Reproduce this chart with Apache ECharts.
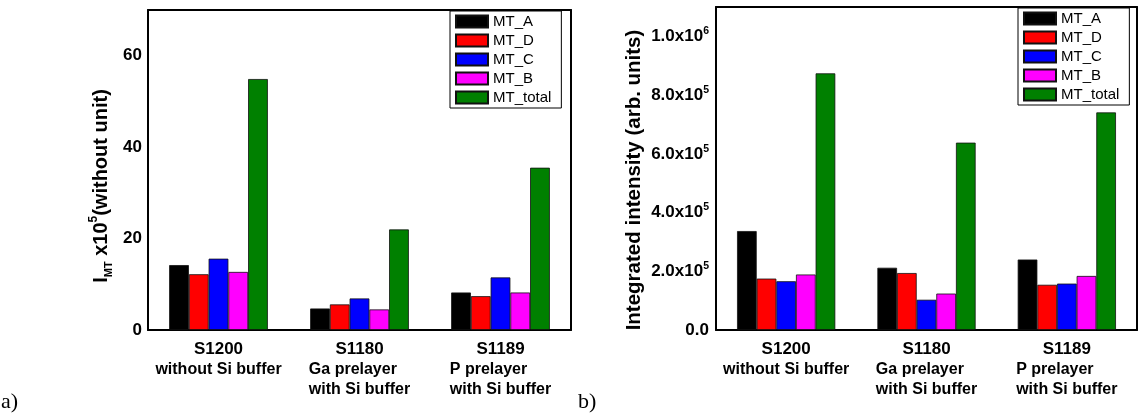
<!DOCTYPE html>
<html>
<head>
<meta charset="utf-8">
<script src="https://cdn.jsdelivr.net/npm/echarts@6/dist/echarts.min.js"></script>
<style>
html,body{margin:0;padding:0;background:#fff;}
#c{width:1139px;height:416px;}
</style>
</head>
<body>
<div id="c"></div>
<script>
// ---- data ----
const categories = ['S1200', 'S1180', 'S1189'];
const categoryNotes = [['without Si buffer'], ['Ga prelayer', 'with Si buffer'], ['P prelayer', 'with Si buffer']];
const seriesNames = ['MT_A', 'MT_D', 'MT_C', 'MT_B', 'MT_total'];
const seriesColors = ['#000000', '#ff0000', '#0000ff', '#ff00ff', '#008000'];
// panel a) : I_MT x10^5 (without unit)
const imtA = [14.2, 4.7, 8.2];
const imtD = [12.2, 5.6, 7.4];
const imtC = [15.6, 6.9, 11.5];
const imtB = [12.7, 4.5, 8.2];
const imtTotal = [54.9, 22.0, 35.5];
// panel b) : integrated intensity (arb. units)
const intA = [337000, 212000, 240000];
const intD = [175000, 194000, 154000];
const intC = [166000, 103000, 158000];
const intB = [189000, 124000, 184000];
const intTotal = [874000, 638000, 741000];
// tick labels
const leftTickValues = [0, 20, 40, 60];
const rightTickValues = [0, 200000, 400000, 600000, 800000, 1000000];

const panelA = [imtA, imtD, imtC, imtB, imtTotal];
const panelB = [intA, intD, intC, intB, intTotal];

const FONT = 'Liberation Sans, Arial, Helvetica, sans-serif';

function catLabel(v, i) {
  const idx = categories.indexOf(v);
  return '{t|' + v + '}\n' + categoryNotes[idx].map(l => '{n|' + l + '}').join('\n');
}

function xAxesFor(gridIndex) {
  return [
    { // main bottom
      gridIndex, type: 'category', data: categories, position: 'bottom',
      axisLine: { onZero: false, lineStyle: { color: '#000', width: 2 } },
      axisTick: { alignWithLabel: true, inside: false, length: 5, lineStyle: { color: '#000', width: 2 } },
      axisLabel: {
        margin: 8, interval: 0, formatter: catLabel, color: '#000',
        rich: {
          t: { fontFamily: FONT, fontSize: 17, fontWeight: 'bold', color: '#000', align: 'center', lineHeight: 22 },
          n: { fontFamily: FONT, fontSize: 16, fontWeight: 'bold', color: '#000', align: 'left', lineHeight: 20 }
        }
      },
      splitLine: { show: false }
    },
    { // boundary ticks bottom
      gridIndex, type: 'category', data: categories, position: 'bottom',
      axisLine: { show: false, onZero: false },
      axisTick: { alignWithLabel: false, inside: true, length: 3, lineStyle: { color: '#000', width: 2 } },
      axisLabel: { show: false }, splitLine: { show: false }
    },
    { // top line with centre ticks
      gridIndex, type: 'category', data: categories, position: 'top',
      axisLine: { onZero: false, lineStyle: { color: '#000', width: 2 } },
      axisTick: { alignWithLabel: true, inside: true, length: 5, lineStyle: { color: '#000', width: 2 } },
      axisLabel: { show: false }, splitLine: { show: false }
    },
    { // boundary ticks top
      gridIndex, type: 'category', data: categories, position: 'top',
      axisLine: { show: false, onZero: false },
      axisTick: { alignWithLabel: false, inside: true, length: 3, lineStyle: { color: '#000', width: 2 } },
      axisLabel: { show: false }, splitLine: { show: false }
    }
  ];
}

function leftFmt(v) {
  return leftTickValues.indexOf(Math.round(v)) >= 0 ? String(Math.round(v)) : '';
}
function rightFmt(v) {
  const r = Math.round(v);
  if (rightTickValues.indexOf(r) < 0) return '';
  if (r === 0) return '{m|0.0}';
  const e = Math.floor(Math.log10(r) + 1e-9);
  const m = r / Math.pow(10, e);
  return '{m|' + m.toFixed(1) + 'x10}{s|' + e + '}';
}

const tickStyle = { color: '#000', width: 2 };

const option = {
  backgroundColor: '#fff',
  animation: false,
  textStyle: { fontFamily: FONT },
  grid: [
    { left: 148, top: 10, width: 423, height: 320, containLabel: false },
    { left: 716, top: 7, width: 421, height: 323, containLabel: false }
  ],
  legend: [
    {
      data: seriesNames, orient: 'vertical', left: 450, top: 11,
      itemWidth: 32, itemHeight: 12, itemGap: 4, icon: 'rect',
      padding: [3, 10, 3, 5],
      borderColor: '#000', borderWidth: 1, backgroundColor: '#fff',
      textStyle: { fontFamily: FONT, fontSize: 15, color: '#000' },
      selectedMode: false
    },
    {
      data: seriesNames, orient: 'vertical', left: 1018, top: 8,
      itemWidth: 32, itemHeight: 12, itemGap: 4, icon: 'rect',
      padding: [3, 10, 3, 5],
      borderColor: '#000', borderWidth: 1, backgroundColor: '#fff',
      textStyle: { fontFamily: FONT, fontSize: 15, color: '#000' },
      selectedMode: false
    }
  ],
  xAxis: [].concat(xAxesFor(0), xAxesFor(1)),
  yAxis: [
    {
      gridIndex: 0, type: 'value', position: 'left', min: 0, max: 70, interval: 10,
      name: 'I{sub|MT} x10{sup|5}(without unit)',
      nameLocation: 'middle', nameRotate: 90, nameGap: 34,
      nameTextStyle: {
        fontFamily: FONT, fontSize: 20, fontWeight: 'bold', color: '#000', lineHeight: 26,
        padding: [0, 32, 0, 0],
        rich: {
          sub: { fontFamily: FONT, fontSize: 11, fontWeight: 'bold', color: '#000', verticalAlign: 'bottom', lineHeight: 11 },
          sup: { fontFamily: FONT, fontSize: 12, fontWeight: 'bold', color: '#000', verticalAlign: 'top', lineHeight: 12 }
        }
      },
      axisLine: { show: true, lineStyle: tickStyle },
      axisTick: { inside: true, length: 5, lineStyle: tickStyle },
      axisLabel: { margin: 6, formatter: leftFmt, fontFamily: FONT, fontSize: 17, fontWeight: 'bold', color: '#000' },
      splitLine: { show: false }
    },
    {
      gridIndex: 0, type: 'value', position: 'right', min: 0, max: 70, interval: 10,
      axisLine: { show: true, lineStyle: tickStyle },
      axisTick: { inside: true, length: 5, lineStyle: tickStyle },
      axisLabel: { show: false }, splitLine: { show: false }
    },
    {
      gridIndex: 1, type: 'value', position: 'left', min: 0, max: 1100000, interval: 100000,
      name: 'Integrated intensity (arb. units)',
      nameLocation: 'middle', nameRotate: 90, nameGap: 70,
      nameTextStyle: { fontFamily: FONT, fontSize: 20.5, fontWeight: 'bold', color: '#000', lineHeight: 24, padding: [0, 23, 0, 0] },
      axisLine: { show: true, lineStyle: tickStyle },
      axisTick: { inside: true, length: 5, lineStyle: tickStyle },
      axisLabel: {
        margin: 7, formatter: rightFmt, color: '#000',
        rich: {
          m: { fontFamily: FONT, fontSize: 17, fontWeight: 'bold', color: '#000', lineHeight: 21 },
          s: { fontFamily: FONT, fontSize: 10.5, fontWeight: 'bold', color: '#000', verticalAlign: 'top', lineHeight: 10 }
        }
      },
      splitLine: { show: false }
    },
    {
      gridIndex: 1, type: 'value', position: 'right', min: 0, max: 1100000, interval: 100000,
      axisLine: { show: true, lineStyle: tickStyle },
      axisTick: { inside: true, length: 5, lineStyle: tickStyle },
      axisLabel: { show: false }, splitLine: { show: false }
    }
  ],
  graphic: [
    { type: 'text', left: 1, top: 391, style: { text: 'a)', font: '22px "Liberation Serif", "Times New Roman", serif', fill: '#000' } },
    { type: 'text', left: 578, top: 391, style: { text: 'b)', font: '22px "Liberation Serif", "Times New Roman", serif', fill: '#000' } }
  ],
  series: []
};

seriesNames.forEach((name, k) => {
  option.series.push({
    name, type: 'bar', xAxisIndex: 0, yAxisIndex: 0, data: panelA[k],
    barGap: '0%', barCategoryGap: '30%',
    itemStyle: { color: seriesColors[k], borderColor: '#111', borderWidth: 0.8 },
    emphasis: { disabled: true }
  });
});
seriesNames.forEach((name, k) => {
  option.series.push({
    name, type: 'bar', xAxisIndex: 4, yAxisIndex: 2, data: panelB[k],
    barGap: '0%', barCategoryGap: '30%',
    itemStyle: { color: seriesColors[k], borderColor: '#111', borderWidth: 0.8 },
    emphasis: { disabled: true }
  });
});

const chart = echarts.init(document.getElementById('c'), null, { renderer: 'canvas' });
chart.setOption(option);
</script>
</body>
</html>
